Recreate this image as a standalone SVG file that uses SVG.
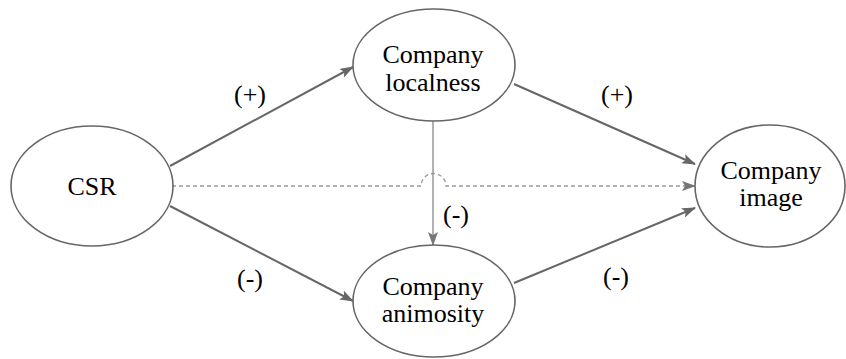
<svg xmlns="http://www.w3.org/2000/svg" width="846" height="359" viewBox="0 0 846 359" font-family="Times New Roman, Liberation Serif, serif">
  <defs>
    <marker id="arrow" viewBox="0 0 14 10" refX="13" refY="5" markerWidth="14" markerHeight="10" markerUnits="userSpaceOnUse" orient="auto">
      <path d="M0,0 L14,5 L0,10 L3,5 Z" fill="#666666"/>
    </marker>
    <marker id="arrow-light" viewBox="0 0 14 10" refX="13" refY="5" markerWidth="14" markerHeight="10" markerUnits="userSpaceOnUse" orient="auto">
      <path d="M0,0 L14,5 L0,10 L3,5 Z" fill="#777777"/>
    </marker>
  </defs>

  <!-- connectors between the constructs -->
  <g id="connectors" fill="none">
    <g stroke="#666666" stroke-width="2">
      <line x1="170" y1="166" x2="353" y2="67" marker-end="url(#arrow)"/>
      <line x1="170" y1="206" x2="353" y2="301" marker-end="url(#arrow)"/>
      <line x1="514" y1="84" x2="695" y2="164" marker-end="url(#arrow)"/>
      <line x1="514" y1="283" x2="695" y2="208" marker-end="url(#arrow)"/>
    </g>
    <line x1="433" y1="120" x2="433" y2="245" stroke="#999999" stroke-width="1.5" marker-end="url(#arrow-light)"/>
    <path d="M172,186 H421 A12.5,12.5 0 0 1 446,186 H695" stroke="#999999" stroke-width="1.3" stroke-dasharray="4 3" marker-end="url(#arrow-light)"/>
  </g>

  <!-- construct nodes; text x values are left edges for Times-metric widths at 26px -->
  <g id="node-csr">
    <ellipse cx="92" cy="186" rx="81" ry="60" fill="#ffffff" stroke="#666666" stroke-width="1.6"/>
    <text x="67.4" y="195" font-family="Times New Roman" font-size="26">CSR</text>
  </g>
  <g id="node-localness">
    <ellipse cx="434" cy="65" rx="81" ry="56" fill="#ffffff" stroke="#666666" stroke-width="1.6"/>
    <text x="382.4" y="63" font-family="Times New Roman" font-size="26">Company</text>
    <text x="385.3" y="91" font-family="Times New Roman" font-size="26">localness</text>
  </g>
  <g id="node-animosity">
    <ellipse cx="434" cy="301" rx="81" ry="56" fill="#ffffff" stroke="#666666" stroke-width="1.6"/>
    <text x="382.4" y="295" font-family="Times New Roman" font-size="26">Company</text>
    <text x="381.7" y="322" font-family="Times New Roman" font-size="26">animosity</text>
  </g>
  <g id="node-image">
    <ellipse cx="770" cy="186" rx="75" ry="61" fill="#ffffff" stroke="#666666" stroke-width="1.6"/>
    <text x="720.4" y="179" font-family="Times New Roman" font-size="26">Company</text>
    <text x="739.2" y="206" font-family="Times New Roman" font-size="26">image</text>
  </g>

  <!-- path signs -->
  <g id="labels">
    <text x="234" y="103" font-family="Times New Roman" font-size="26">(+)</text>
    <text x="601" y="103" font-family="Times New Roman" font-size="26">(+)</text>
    <text x="443" y="223" font-family="Times New Roman" font-size="26">(-)</text>
    <text x="237" y="287" font-family="Times New Roman" font-size="26">(-)</text>
    <text x="603" y="285" font-family="Times New Roman" font-size="26">(-)</text>
  </g>
</svg>
